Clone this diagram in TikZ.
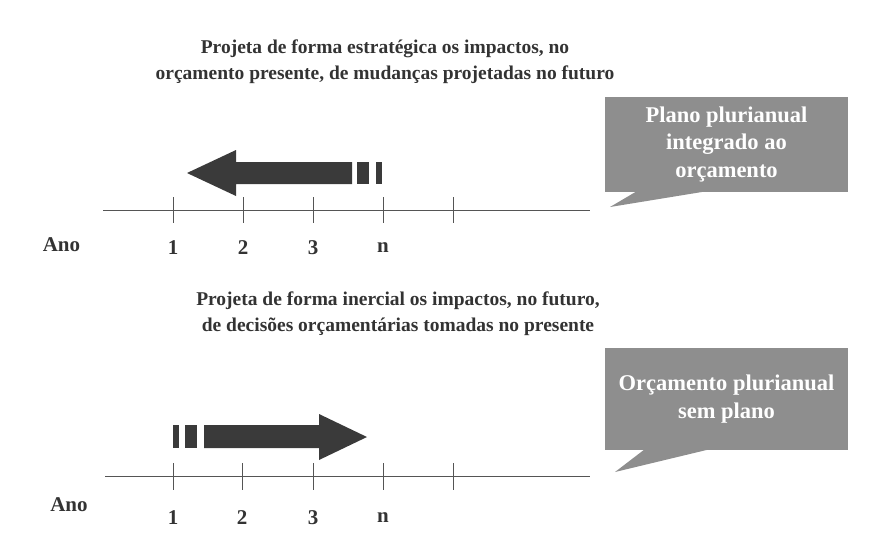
\documentclass[tikz,border=0pt]{standalone}
\usepackage{fontspec}
\setmainfont{Liberation Serif}
\usepackage{xcolor}

\definecolor{darkfill}{HTML}{3A3A3A}
\definecolor{boxgray}{HTML}{8E8E8E}
\definecolor{textgray}{HTML}{333333}
\definecolor{axisgray}{HTML}{555555}

\begin{document}
\begin{tikzpicture}[x=1pt, y=-1pt,
    every node/.style={font=\bfseries\fontsize{21}{25}\selectfont, text=textgray, inner sep=0pt},
    title/.style={align=center, font=\bfseries\fontsize{19.5}{26}\selectfont},
    balloon/.style={fill=boxgray, text=white, align=center, minimum width=243pt, minimum height=95pt,
                    font=\bfseries\fontsize{22.5}{27.5}\selectfont},
    axis/.style={draw=axisgray, line width=0.9pt},
    bigarrow/.style={fill=darkfill}]
                    \useasboundingbox (0,0) rectangle (869,542);

                    % top part
                    \node[title] (T1) at (385,62) {Projeta de forma estratégica os impactos, no\\orçamento presente, de mudanças projetadas no futuro};
                    \node[balloon] (P1) at (726.5,144.5) {Plano plurianual\\integrado ao\\orçamento};
                    \coordinate (P1tip) at (610,207);
                    \fill[boxgray] ([xshift=32pt,yshift=1pt]P1.south west) -- (P1tip) -- ([xshift=102pt,yshift=1pt]P1.south west) -- cycle;

                    \coordinate (A1) at (103,210);
                    \coordinate (B1) at (590,210);
                    \draw[axis] (A1) -- (B1);
                    \foreach \x in {173,243,313,383,453}
                        \draw[axis] (\x,197) -- (\x,223);

                    \node (ano1) at (61.5,245) {Ano};
                    \foreach \x/\lab in {173/1,243/2,313/3,383/n}
                        \node (y1\lab) at (\x,248) {\lab};

                    \fill[bigarrow] (187,173) -- (236,150) -- (236,162) -- (352,162) -- (352,184) -- (236,184) -- (236,196) -- cycle;
                    \fill[bigarrow] (357,162) rectangle (369,184);
                    \fill[bigarrow] (376,162) rectangle (382,184);

                    % bottom part
                    \node[title] (T2) at (398,314) {Projeta de forma inercial os impactos, no futuro,\\de decisões orçamentárias tomadas no presente};
                    \node[balloon, minimum height=102pt] (P2) at (726.5,399) {Orçamento plurianual\\sem plano};
                    \coordinate (P2tip) at (615,472);
                    \fill[boxgray] ([xshift=40pt,yshift=1pt]P2.south west) -- (P2tip) -- ([xshift=105pt,yshift=1pt]P2.south west) -- cycle;

                    \coordinate (A2) at (105,476);
                    \coordinate (B2) at (590,476);
                    \draw[axis] (A2) -- (B2);
                    \foreach \x in {173,242,313,383,453}
                        \draw[axis] (\x,463) -- (\x,490);

                    \node (ano2) at (69,505) {Ano};
                    \foreach \x/\lab in {173/1,242/2,313/3,383/n}
                        \node (y2\lab) at (\x,518) {\lab};

                    \fill[bigarrow] (204,425) -- (319,425) -- (319,414) -- (367,437) -- (319,460) -- (319,448) -- (204,448) -- cycle;
                    \fill[bigarrow] (173,425) rectangle (179,448);
                    \fill[bigarrow] (185,425) rectangle (197,448);
                \end{tikzpicture}
\end{document}
